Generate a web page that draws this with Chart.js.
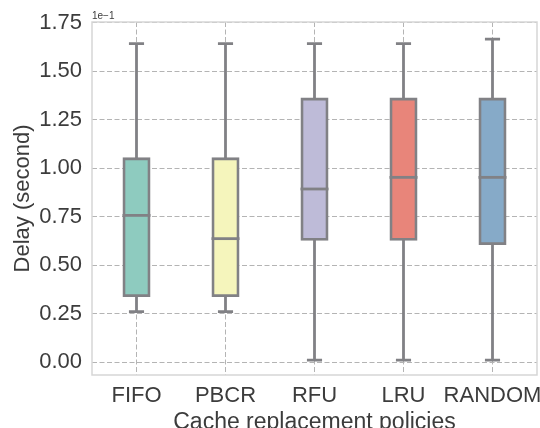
<!DOCTYPE html>
<html>
<head>
<meta charset="utf-8">
<script src="https://cdn.jsdelivr.net/npm/chart.js@4.4.1/dist/chart.umd.min.js"></script>
<style>
  html, body { margin: 0; padding: 0; background: #fff; }
  #wrap { width: 540px; height: 428px; }
</style>
</head>
<body>
<div id="wrap"><canvas id="boxChart"></canvas></div>
<script>
/* ================================================
   Box plot – delay per cache replacement policy
================================================ */

const categories = ['FIFO', 'PBCR', 'RFU', 'LRU', 'RANDOM'];
// values in units of 1e-1 second
const whiskerLow  = [0.26, 0.26, 0.01, 0.01, 0.01];
const q1Values    = [0.342, 0.342, 0.632, 0.632, 0.61];
const medians     = [0.756, 0.636, 0.892, 0.952, 0.952];
const q3Values    = [1.048, 1.048, 1.356, 1.356, 1.356];
const whiskerHigh = [1.641, 1.641, 1.641, 1.641, 1.665];
const yTicks = [0, 0.25, 0.5, 0.75, 1.0, 1.25, 1.5, 1.75];

const boxColors = ['#8ecbbf', '#f5f5bc', '#bebbd8', '#e8857a', '#86aac8'];
const edgeColor = '#818185';
const textColor = '#3c3c3c';
const FONT = "'Liberation Sans', Arial, sans-serif";
const LW = 2.8;

const boxPlot = {
  id: 'boxPlot',
  beforeDatasetsDraw(chart) {
    const { ctx, chartArea: a, scales: { y } } = chart;
    const bars = chart.getDatasetMeta(0).data;

    // frame
    ctx.save();
    ctx.strokeStyle = '#d6d6d6';
    ctx.lineWidth = 1.5;
    ctx.strokeRect(a.left, a.top, a.right - a.left, a.bottom - a.top);
    ctx.restore();

    // whiskers + caps
    ctx.save();
    ctx.strokeStyle = edgeColor;
    ctx.lineWidth = LW;
    bars.forEach((bar, i) => {
      const x = bar.x;
      const cap = bar.width * 0.3;
      const segs = [[q3Values[i], whiskerHigh[i]], [q1Values[i], whiskerLow[i]]];
      segs.forEach(([from, to]) => {
        const y0 = y.getPixelForValue(from);
        const y1 = y.getPixelForValue(to);
        ctx.beginPath();
        ctx.moveTo(x, y0);
        ctx.lineTo(x, y1);
        ctx.moveTo(x - cap, y1);
        ctx.lineTo(x + cap, y1);
        ctx.stroke();
      });
    });
    ctx.restore();
  },
  afterDatasetsDraw(chart) {
    const { ctx, chartArea: a, scales: { y } } = chart;
    const bars = chart.getDatasetMeta(0).data;

    ctx.save();
    ctx.strokeStyle = edgeColor;
    ctx.lineWidth = LW;
    bars.forEach((bar, i) => {
      const yy = y.getPixelForValue(medians[i]);
      const half = bar.width / 2 + LW / 2;
      ctx.beginPath();
      ctx.moveTo(bar.x - half, yy);
      ctx.lineTo(bar.x + half, yy);
      ctx.stroke();
    });

    // offset text of the y axis
    ctx.fillStyle = textColor;
    ctx.font = '10px ' + FONT;
    ctx.textAlign = 'left';
    ctx.textBaseline = 'bottom';
    ctx.fillText('1e\u22121', a.left, a.top - 1);
    ctx.restore();
  }
};

const ctx = document.getElementById('boxChart').getContext('2d');

new Chart(ctx, {
  type: 'bar',
  data: {
    labels: categories,
    datasets: [{
      data: categories.map((c, i) => [q1Values[i], q3Values[i]]),
      backgroundColor: boxColors,
      borderColor: edgeColor,
      borderWidth: LW,
      borderSkipped: false,
      inflateAmount: LW / 2,
      barThickness: 25.2,
    }]
  },
  options: {
    responsive: true,
    maintainAspectRatio: false,
    animation: false,
    layout: { padding: { top: 22, right: 3, left: 0, bottom: 0 } },
    plugins: {
      legend: { display: false },
      tooltip: { enabled: false }
    },
    scales: {
      x: {
        offset: true,
        grid: { offset: false, color: '#b4b4b4', lineWidth: 1, drawTicks: false },
        border: { display: false, dash: [5, 2.5] },
        ticks: {
          color: textColor,
          padding: 8,
          autoSkip: false,
          maxRotation: 0,
          minRotation: 0,
          font: { family: FONT, size: 22 }
        },
        title: {
          display: true,
          text: 'Cache replacement policies',
          color: textColor,
          font: { family: FONT, size: 23 },
          padding: { top: 0, bottom: -8 }
        },
        afterFit: s => { s.height = 53; s.paddingLeft = 0; s.paddingRight = 0; }
      },
      y: {
        min: -0.067,
        max: 1.753,
        grid: { color: '#b4b4b4', lineWidth: 1, drawTicks: false },
        border: { display: false, dash: [5, 2.5] },
        afterBuildTicks: s => { s.ticks = yTicks.map(v => ({ value: v })); },
        ticks: {
          color: textColor,
          padding: 10,
          font: { family: FONT, size: 22 },
          callback: v => Number(v).toFixed(2)
        },
        title: {
          display: true,
          text: 'Delay (second)',
          color: textColor,
          font: { family: FONT, size: 22 },
          padding: { top: 10, bottom: 0 }
        },
        afterFit: s => { s.width = 92; s.paddingTop = 0; s.paddingBottom = 0; }
      }
    }
  },
  plugins: [boxPlot]
});
</script>
</body>
</html>
